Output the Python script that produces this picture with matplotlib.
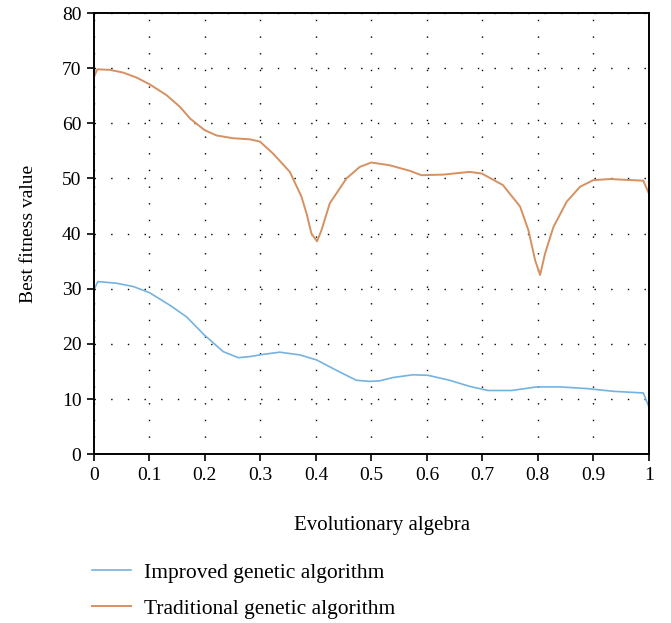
import matplotlib
matplotlib.use('Agg')
import matplotlib.pyplot as plt

plt.rcParams['font.family'] = ['Liberation Serif', 'DejaVu Serif']

# x positions (evolutionary algebra) and best fitness values
x_improved = [0.0, 0.007, 0.041, 0.071, 0.1, 0.137, 0.167, 0.199, 0.233, 0.26, 0.281, 0.305,
              0.335, 0.371, 0.401, 0.443, 0.473, 0.497, 0.515, 0.539, 0.575, 0.602, 0.641,
              0.677, 0.71, 0.753, 0.798, 0.84, 0.888, 0.936, 0.99, 1.0]
y_improved = [29.8, 31.3, 31.0, 30.4, 29.3, 27.0, 24.9, 21.6, 18.6, 17.5, 17.7, 18.1,
              18.5, 18.0, 17.1, 14.9, 13.4, 13.2, 13.3, 13.9, 14.4, 14.3, 13.4,
              12.3, 11.55, 11.55, 12.2, 12.2, 11.9, 11.4, 11.1, 8.6]

x_traditional = [0.0, 0.006, 0.029, 0.053, 0.077, 0.1, 0.131, 0.155, 0.173, 0.199, 0.221,
                 0.251, 0.281, 0.299, 0.323, 0.353, 0.374, 0.383, 0.392, 0.402, 0.41, 0.425,
                 0.455, 0.479, 0.5, 0.533, 0.569, 0.59, 0.629, 0.677, 0.699, 0.737, 0.768,
                 0.783, 0.795, 0.804, 0.813, 0.828, 0.852, 0.876, 0.9, 0.93, 0.99, 1.0]
y_traditional = [68.4, 69.8, 69.7, 69.2, 68.3, 67.1, 65.1, 63.0, 60.9, 58.8, 57.8,
                 57.3, 57.1, 56.7, 54.5, 51.2, 46.7, 43.7, 40.0, 38.6, 40.6, 45.5,
                 50.0, 52.1, 52.9, 52.4, 51.4, 50.6, 50.7, 51.2, 50.9, 48.8, 44.9,
                 40.6, 35.2, 32.5, 36.4, 41.2, 45.8, 48.5, 49.7, 49.9, 49.6, 47.3]

xticks = [0, 0.1, 0.2, 0.3, 0.4, 0.5, 0.6, 0.7, 0.8, 0.9, 1]
xtick_labels = ['0', '0.1', '0.2', '0.3', '0.4', '0.5', '0.6', '0.7', '0.8', '0.9', '1']
yticks = [0, 10, 20, 30, 40, 50, 60, 70, 80]

fig = plt.figure(figsize=(6.71, 6.23), dpi=100)
ax = fig.add_axes([0.140, 0.271, 0.827, 0.708])

ax.plot(x_improved, y_improved, color='#74b3e0', lw=1.2, label='Improved genetic algorithm')
ax.plot(x_traditional, y_traditional, color='#d69061', lw=1.4, label='Traditional genetic algorithm')

ax.set_xlim(0, 1)
ax.set_ylim(0, 80)
ax.set_xticks(xticks)
ax.set_xticklabels(xtick_labels)
ax.set_yticks(yticks)
ax.tick_params(direction='out', length=5, width=1.2, labelsize=14, pad=4)
for s in ax.spines.values():
    s.set_linewidth(1.4)

ax.grid(True, color='black', linestyle=(0, (1, 11)), linewidth=1.0)

ax.set_xlabel('Evolutionary algebra', fontsize=15, labelpad=22)
ax.xaxis.set_label_coords(0.52, -0.14)
ax.set_ylabel('Best fitness value', fontsize=14, labelpad=18)

fig.legend(loc='upper left', bbox_to_anchor=(0.108, 0.128), frameon=False, fontsize=15.5,
           handlelength=1.8, labelspacing=0.75, handletextpad=0.6)

fig.savefig('out.png', dpi=100)
